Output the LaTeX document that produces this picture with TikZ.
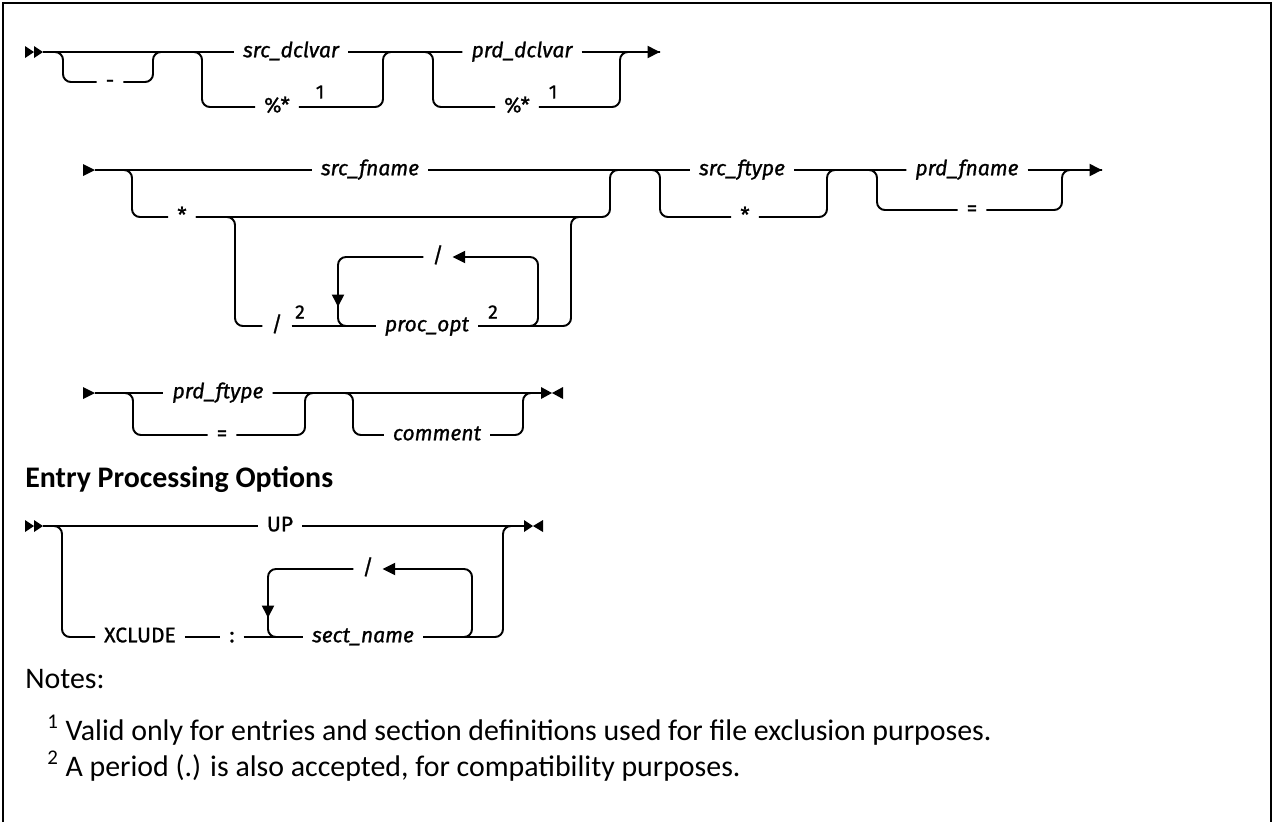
\documentclass[tikz,border=0pt]{standalone}
\usepackage{fontspec}
\setmainfont{Fira Sans}
\newfontfamily\railfont{Fira Sans}[FakeBold=1.0]
\newfontfamily\notefont{Carlito}
\usetikzlibrary{arrows.meta,positioning}

\begin{document}
\begin{tikzpicture}[x=0.02cm, y=-0.02cm,
    rail/.style={line width=1.1pt, rounded corners=4.5pt},
    syn/.style={inner xsep=5pt, inner ysep=0pt, text height=8.5pt, text depth=2.5pt,
        font=\railfont\fontsize{12}{14}\selectfont},
    var/.style={syn, font=\railfont\fontsize{12}{14}\selectfont\itshape},
    kw/.style={syn},
    supnum/.style={inner sep=0pt, font=\railfont\fontsize{11}{12}\selectfont},
    tip/.style={-{Triangle[length=2.5mm, width=2.4mm]}},
    heading/.style={anchor=base west, inner sep=0pt, font=\notefont\bfseries\fontsize{17}{20}\selectfont},
    note/.style={anchor=base west, inner sep=0pt, font=\notefont\fontsize{17}{20}\selectfont}
]
    \useasboundingbox (0,0) rectangle (1274,822);
    % frame
    \draw[line width=1.2pt] (3,822) -- (3,3) -- (1271,3) -- (1271,822);

    % first row
    \fill (25,46) -- (34,52) -- (25,58) -- cycle;
    \fill (34,46) -- (43,52) -- (34,58) -- cycle;
    \coordinate (r1s) at (43,52);
    \coordinate (r1e) at (660,52);
    \node[var] (sdv) at (291,52) {src\_dclvar};
    \node[var] (pdv) at (522,52) {prd\_dclvar};
    \node[kw] (dash) at (110,82) {-};
    \node[kw] (spct) at (277,107) {\%*};
    \node[supnum] (sn1) at (320,92) {1};
    \node[kw] (ppct) at (517,107) {\%*};
    \node[supnum] (pn1) at (553,92) {1};

    \draw[rail] (r1s) -- (sdv.west);
    \draw[rail] (sdv.east) -- (pdv.west);
    \draw[rail, tip] (pdv.east) -- (r1e);
    \draw[rail] (r1s) -| (63,82) -- (dash.west);
    \draw[rail] (dash.east) -| (153,52) -- (sdv.west);
    \draw[rail] (r1s) -| (202,107) -- (spct.west);
    \draw[rail] (spct.east) -| (383,52) -- (pdv.west);
    \draw[rail] (sdv.east) -| (433,107) -- (ppct.west);
    \draw[rail] (ppct.east) -| (620,52) -- (r1e);

    % second row
    \fill (83,164) -- (95,170) -- (83,176) -- cycle;
    \coordinate (r2s) at (95,170);
    \coordinate (r2e) at (1102,170);
    \node[var] (sfn) at (370,170) {src\_fname};
    \node[var] (sft) at (742,170) {src\_ftype};
    \node[var] (pfn) at (967,170) {prd\_fname};
    \node[kw] (star) at (182,217) {*};
    \node[kw] (slash) at (277,326) {/};
    \node[supnum] (sl2) at (300,312) {2};
    \node[var] (popt) at (427,326) {proc\_opt};
    \node[supnum] (po2) at (493,312) {2};
    \node[kw] (rsep) at (438,257) {/};
    \node[kw] (ftstar) at (745,217) {*};
    \node[kw] (pfeq) at (972,210) {=};

    \draw[rail] (r2s) -- (sfn.west);
    \draw[rail] (sfn.east) -- (sft.west);
    \draw[rail] (sft.east) -- (pfn.west);
    \draw[rail, tip] (pfn.east) -- (r2e);
    \draw[rail] (r2s) -| (132,217) -- (star.west);
    \draw[rail] (star.east) -| (610,170) -- (sft.west);
    \draw[rail] (star.east) -| (235,326) -- (slash.west);
    \draw[rail] (slash.east) -- (popt.west);
    \draw[rail] (popt.east) -| (571,217) -- (590,217);
    % repeat loop
    \draw[rail, tip] (popt.east) -| (538,257) -- (rsep.east);
    \draw[rail, tip] (rsep.west) -| (338,307);
    \draw[rail] (338,300) |- (popt.west);
    \draw[rail] (sfn.east) -| (660,217) -- (ftstar.west);
    \draw[rail] (ftstar.east) -| (827,170) -- (pfn.west);
    \draw[rail] (sft.east) -| (877,210) -- (pfeq.west);
    \draw[rail] (pfeq.east) -| (1062,170) -- (r2e);

    % third row
    \fill (83,387) -- (95,393) -- (83,399) -- cycle;
    \coordinate (r3s) at (95,393);
    \coordinate (r3e) at (541,393);
    \node[var] (pft) at (218,393) {prd\_ftype};
    \node[kw] (pfteq) at (222,435) {=};
    \node[var] (cmt) at (437,435) {comment};

    \draw[rail] (r3s) -- (pft.west);
    \draw[rail] (pft.east) -- (r3e);
    \draw[rail] (r3s) -| (133,435) -- (pfteq.west);
    \draw[rail] (pfteq.east) -| (305,393) -- (r3e);
    \draw[rail] (pft.east) -| (353,435) -- (cmt.west);
    \draw[rail] (cmt.east) -| (523,393) -- (r3e);
    \fill (541,387) -- (552,393) -- (541,399) -- cycle;
    \fill (563,387) -- (552,393) -- (563,399) -- cycle;

    % entry processing options
    \node[heading] (eph) at (25,487) {Entry Processing Options};

    \fill (25,520) -- (34,526) -- (25,532) -- cycle;
    \fill (34,520) -- (43,526) -- (34,532) -- cycle;
    \coordinate (es) at (43,526);
    \coordinate (ee) at (524,526);
    \node[kw] (up) at (280,526) {UP};
    \node[kw] (xcl) at (140,637) {XCLUDE};
    \node[kw] (colon) at (232,637) {:};
    \node[var] (sect) at (363,637) {sect\_name};
    \node[kw] (esep) at (368,569) {/};

    \draw[rail] (es) -- (up.west);
    \draw[rail] (up.east) -- (ee);
    \draw[rail] (es) -| (62,637) -- (xcl.west);
    \draw[rail] (xcl.east) -- (colon.west);
    \draw[rail] (colon.east) -- (sect.west);
    \draw[rail] (sect.east) -| (503,526) -- (ee);
    \draw[rail, tip] (sect.east) -| (472,569) -- (esep.east);
    \draw[rail, tip] (esep.west) -| (268,618);
    \draw[rail] (268,610) |- (sect.west);
    \fill (524,520) -- (533,526) -- (524,532) -- cycle;
    \fill (543,520) -- (533,526) -- (543,532) -- cycle;

    % notes
    \node[note] (nts) at (25,688) {Notes:};
    \node[note] (nt1) at (47,740) {\textsuperscript{1} Valid only for entries and section definitions used for file exclusion purposes.};
    \node[note] (nt2) at (47,776) {\textsuperscript{2} A period (.) is also accepted, for compatibility purposes.};
\end{tikzpicture}
\end{document}
